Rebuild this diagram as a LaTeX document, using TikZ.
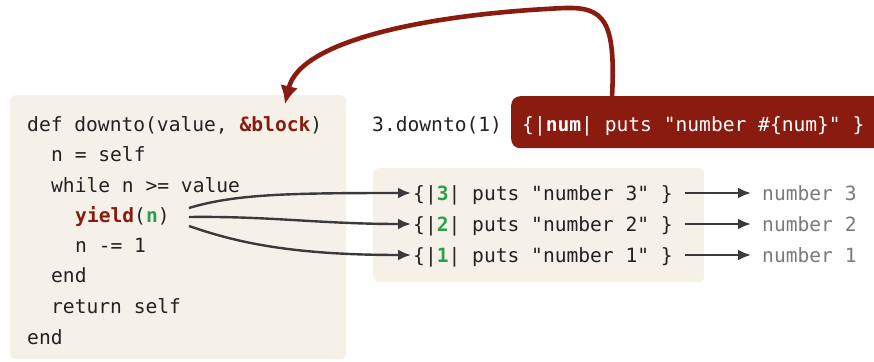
\documentclass[tikz,border=0pt]{standalone}
\usepackage{fontspec}
\newfontfamily\codefont{DejaVu Sans Mono}
\usetikzlibrary{arrows.meta}
\definecolor{boxbg}{HTML}{F5F1E8}
\definecolor{kwred}{HTML}{8A1B10}
\definecolor{numgreen}{HTML}{2E9E4E}
\definecolor{arrowgray}{HTML}{3A3A3A}
\definecolor{outgray}{HTML}{7A7A7A}
\definecolor{codeblack}{HTML}{222222}
\begin{document}
\begin{tikzpicture}[x=1pt,y=-1pt,
  code/.style={anchor=base west, inner sep=0pt, font=\codefont\fontsize{19.6}{24}\selectfont, text=codeblack},
  bgbox/.style={fill=boxbg, draw=none, rounded corners=6pt, anchor=north west, inner sep=0pt},
  flow/.style={draw=arrowgray, line width=2.4pt, -{Latex[length=13pt,width=11pt]}},
  bigarrow/.style={draw=kwred, line width=4.6pt, -{Latex[length=18pt,width=18pt]}}]
\useasboundingbox (0,0) rectangle (874,361);
\clip (0,0) rectangle (874,361);
\fill[white] (0,0) rectangle (874,361);

% boxes
\node[bgbox, minimum width=336pt, minimum height=264pt] (codebox) at (10,95) {};
\node[bgbox, minimum width=331pt, minimum height=114pt] (callbox) at (373,168) {};
\node[bgbox, fill=kwred, rounded corners=9pt, minimum width=380pt, minimum height=52pt] (blockbox) at (511,96) {};

% left code
\node[code] (l1) at (27,131) {def downto(value, \textcolor{kwred}{\textbf{\&block}})};
\node[code] (l2) at (51,161) {n = self};
\node[code] (l3) at (51,192) {while n >= value};
\node[code] (l4) at (75,222) {\textcolor{kwred}{\textbf{yield}}(\textcolor{numgreen}{\textbf{n}})};
\node[code] (l5) at (75,252) {n -= 1};
\node[code] (l6) at (51,282) {end};
\node[code] (l7) at (51,313) {return self};
\node[code] (l8) at (27,344) {end};

% call
\node[code] (call) at (372,131) {3.downto(1)};
\node[code, text=white] (blk) at (522,131) {\{|\textbf{num}| puts "number \#\{num\}" \}};

% yielded blocks
\node[code] (b3) at (413,200) {\{|\textcolor{numgreen}{\textbf{3}}| puts "number 3" \}};
\node[code] (b2) at (413,231) {\{|\textcolor{numgreen}{\textbf{2}}| puts "number 2" \}};
\node[code] (b1) at (413,262) {\{|\textcolor{numgreen}{\textbf{1}}| puts "number 1" \}};

% outputs
\node[code, text=outgray] (o3) at (762,200) {number 3};
\node[code, text=outgray] (o2) at (762,231) {number 2};
\node[code, text=outgray] (o1) at (762,262) {number 1};

% yield arrows
\coordinate (y3) at (189,208);
\coordinate (y2) at (189,217);
\coordinate (y1) at (189,226);
\coordinate (e3) at (411,193);
\coordinate (e2) at (411,224);
\coordinate (e1) at (411,255);
\draw[flow] (y3) .. controls (235,194) and (290,193) .. (e3);
\draw[flow] (y2) .. controls (270,216) and (320,224) .. (e2);
\draw[flow] (y1) .. controls (235,242) and (290,255) .. (e1);

% output arrows
\coordinate (s3) at (685,193);
\coordinate (s2) at (685,224);
\coordinate (s1) at (685,255);
\coordinate (t3) at (751,193);
\coordinate (t2) at (751,224);
\coordinate (t1) at (751,255);
\draw[flow] (s3) -- (t3);
\draw[flow] (s2) -- (t2);
\draw[flow] (s1) -- (t1);

% big red arrow
\coordinate (bstart) at (612,97);
\coordinate (btop) at (565,8);
\coordinate (btip) at (285,104);
\draw[bigarrow] (bstart) .. controls (616,20) and (604,7) .. (btop)
  .. controls (430,14) and (300,40) .. (btip);
\end{tikzpicture}
\end{document}
